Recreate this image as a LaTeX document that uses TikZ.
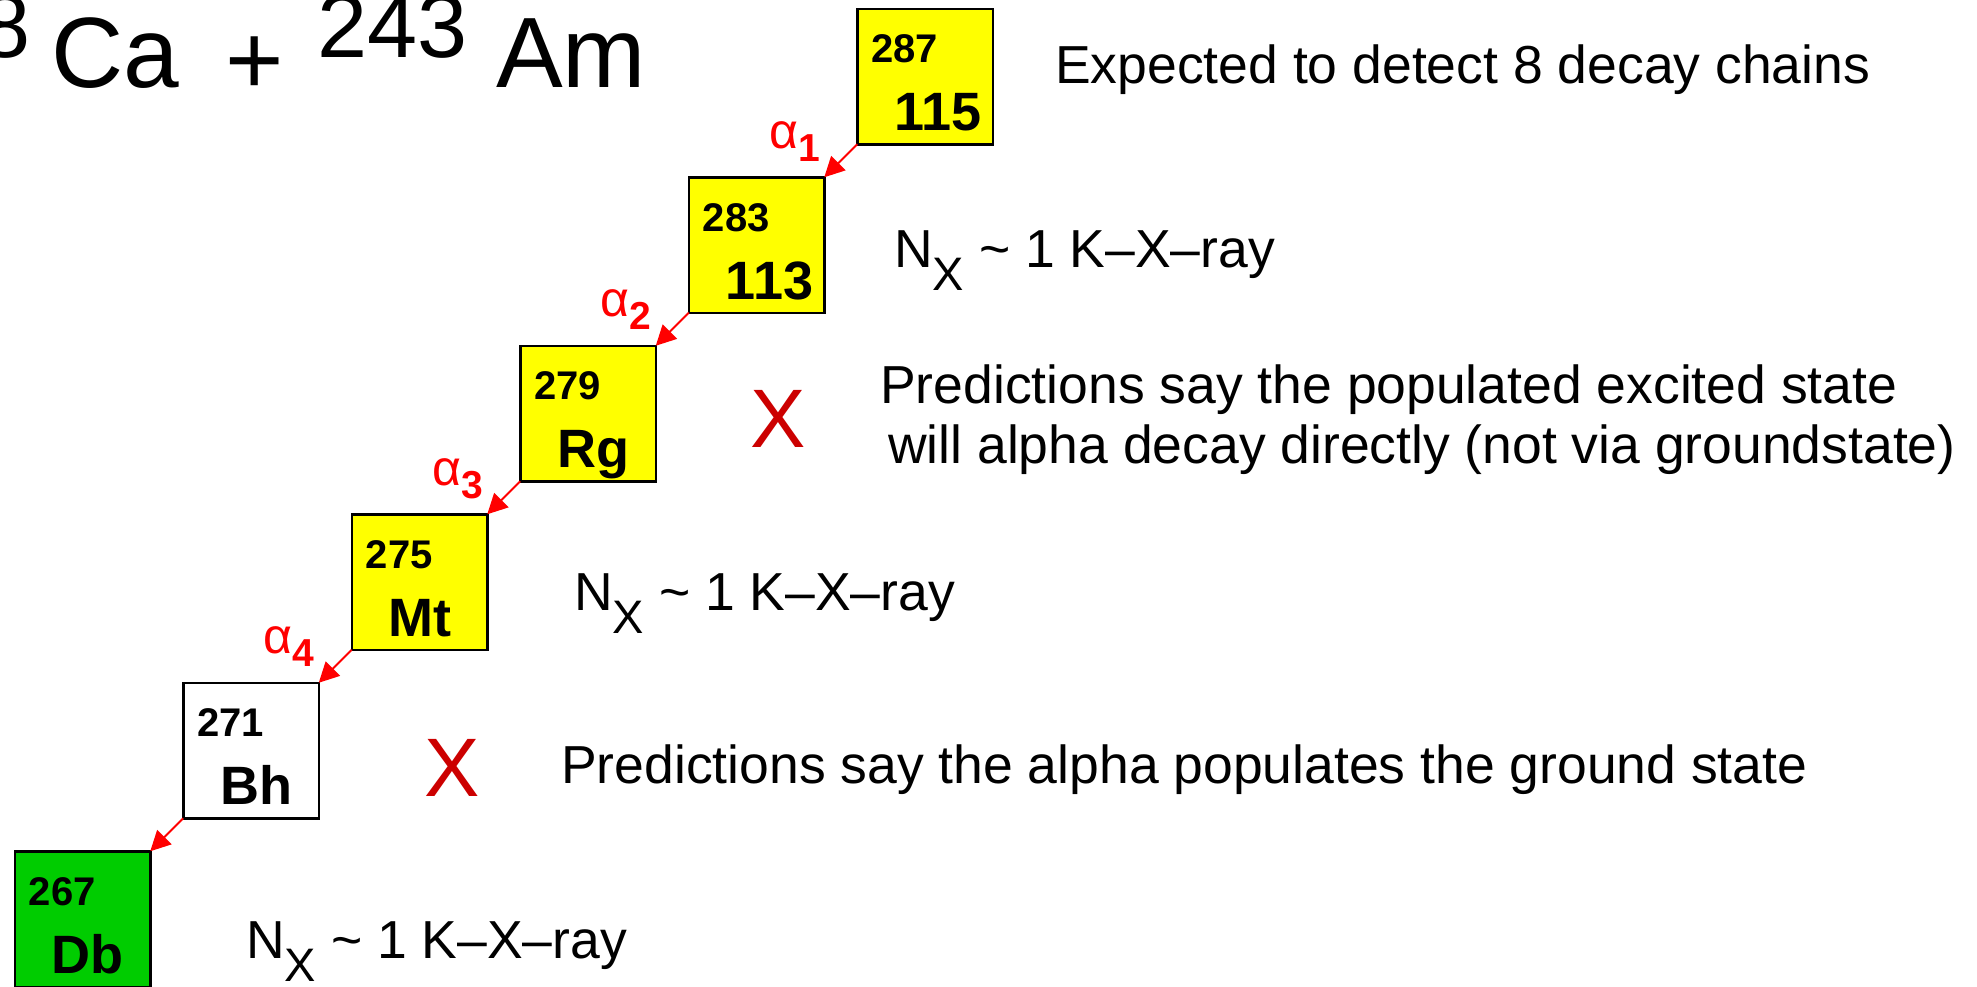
\documentclass[tikz,border=0pt]{standalone}
\usepackage{fontspec}
\setmainfont{Liberation Sans}
\usetikzlibrary{calc,arrows.meta}
\definecolor{xred}{RGB}{204,0,0}
\definecolor{nucgreen}{RGB}{0,204,0}
\definecolor{nucyellow}{RGB}{255,255,0}
\begin{document}
\begin{tikzpicture}[x=1pt,y=-1pt,
  nucbox/.style={draw=black,line width=2.5pt,minimum size=135.5pt,inner sep=0pt,outer sep=0pt},
  mass/.style={anchor=base west,inner sep=0pt,font=\fontsize{40}{40}\selectfont\bfseries},
  elem/.style={anchor=base west,inner sep=0pt,font=\fontsize{54}{54}\selectfont\bfseries},
  decay/.style={draw=red,line width=2pt,-{Triangle[length=20pt,width=20pt]}},
  alab/.style={anchor=base west,inner sep=0pt,text=red},
  note/.style={anchor=base west,inner sep=0pt,font=\fontsize{53.5}{60}\selectfont},
  cross/.style={inner sep=0pt,text=xred,font=\fontsize{83}{83}\selectfont},
  titletext/.style={inner sep=0pt,font=\fontsize{100}{100}\selectfont},
  titlesup/.style={inner sep=0pt,font=\fontsize{90}{90}\selectfont}
]
\fill[white] (0,0) rectangle (1977,986);
\useasboundingbox (0,0) rectangle (1977,986);

% title
\node[titlesup,anchor=base east] (sup48) at (31,57) {48};
\node[titletext,anchor=base west] (ca) at (51,87) {Ca};
\node[titletext,anchor=base] (plus) at (255,94.5) {+};
\node[titlesup,anchor=base west] (sup243) at (317,57) {243};
\node[titletext,anchor=base west] (am) at (496,87) {Am};

% boxes
\node[nucbox,fill=nucyellow] (b115) at (925,76.5) {};
\node[nucbox,fill=nucyellow] (b113) at (756.5,245) {};
\node[nucbox,fill=nucyellow] (brg) at (588,413.5) {};
\node[nucbox,fill=nucyellow] (bmt) at (419.5,582) {};
\node[nucbox,fill=white] (bbh) at (251,750.5) {};
\node[nucbox,fill=nucgreen] (bdb) at (82.5,919) {};

% box labels
\node[mass] (m115) at ($(b115.north west)+(14,54)$) {287};
\node[elem] (e115) at ($(b115.north west)+(37,122)$) {115};
\node[mass] (m113) at ($(b113.north west)+(14,54)$) {283};
\node[elem] (e113) at ($(b113.north west)+(37,122)$) {113};
\node[mass] (mrg) at ($(brg.north west)+(14,54)$) {279};
\node[elem] (erg) at ($(brg.north west)+(37,122)$) {Rg};
\node[mass] (mmt) at ($(bmt.north west)+(14,54)$) {275};
\node[elem] (emt) at ($(bmt.north west)+(37,122)$) {Mt};
\node[mass] (mbh) at ($(bbh.north west)+(14,54)$) {271};
\node[elem] (ebh) at ($(bbh.north west)+(37,122)$) {Bh};
\node[mass] (mdb) at ($(bdb.north west)+(14,54)$) {267};
\node[elem] (edb) at ($(bdb.north west)+(37,122)$) {Db};

% decays
\draw[decay] (b115.south west) -- (b113.north east);
\draw[decay] (b113.south west) -- (brg.north east);
\draw[decay] (brg.south west) -- (bmt.north east);
\draw[decay] (bmt.south west) -- (bbh.north east);
\draw[decay] (bbh.south west) -- (bdb.north east);

% alpha labels
\node[alab] (a1) at ($(b113.north east)+(-55,-29)$) {\fontsize{50}{50}\selectfont α\fontsize{39}{39}\selectfont\bfseries\raisebox{-13pt}{1}};
\node[alab] (a2) at ($(brg.north east)+(-55,-29)$) {\fontsize{50}{50}\selectfont α\fontsize{39}{39}\selectfont\bfseries\raisebox{-13pt}{2}};
\node[alab] (a3) at ($(bmt.north east)+(-55,-29)$) {\fontsize{50}{50}\selectfont α\fontsize{39}{39}\selectfont\bfseries\raisebox{-13pt}{3}};
\node[alab] (a4) at ($(bbh.north east)+(-55,-29)$) {\fontsize{50}{50}\selectfont α\fontsize{39}{39}\selectfont\bfseries\raisebox{-13pt}{4}};

% notes
\node[note] (t1) at (1055,83) {Expected to detect 8 decay chains};
\node[note] (nx1) at (894,267) {N\raisebox{-23pt}{\fontsize{47}{47}\selectfont X} \textasciitilde{} 1 K–X–ray};
\node[cross] (x1) at (778,419) {X};
\node[note] (t3a) at (880,403) {Predictions say the populated excited state};
\node[note] (t3b) at (888,463) {will alpha decay directly (not via groundstate)};
\node[note] (nx2) at (574,610) {N\raisebox{-23pt}{\fontsize{47}{47}\selectfont X} \textasciitilde{} 1 K–X–ray};
\node[cross] (x2) at (452,768) {X};
\node[note] (t5) at (561,783) {Predictions say the alpha populates the ground state};
\node[note] (nx3) at (246,958) {N\raisebox{-23pt}{\fontsize{47}{47}\selectfont X} \textasciitilde{} 1 K–X–ray};
\end{tikzpicture}
\end{document}
